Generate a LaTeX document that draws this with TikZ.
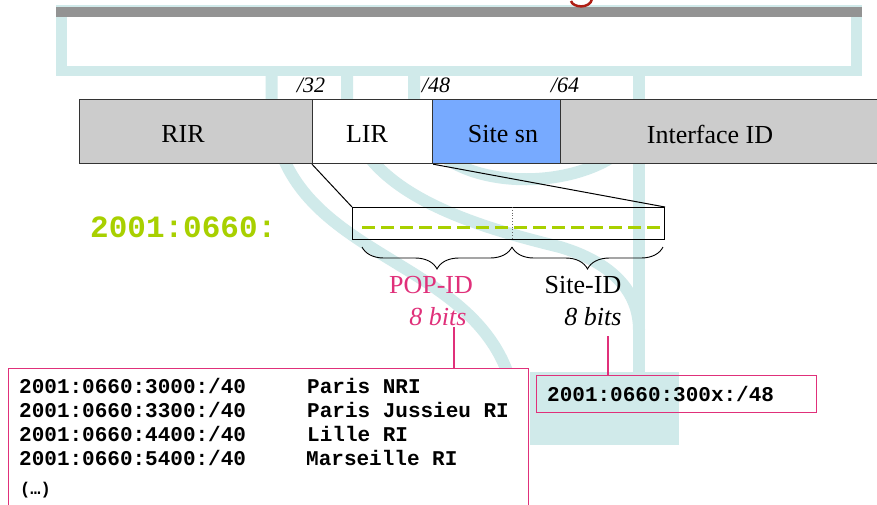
\documentclass[tikz,border=0pt]{standalone}
\usepackage{fontspec}
\setmainfont{Liberation Serif}
\setmonofont{Liberation Mono}
\usetikzlibrary{decorations.pathreplacing}
\definecolor{teal1}{RGB}{208,234,234}
\definecolor{barg}{RGB}{147,147,147}
\definecolor{boxg}{RGB}{204,204,204}
\definecolor{siteb}{RGB}{119,170,255}
\definecolor{mag}{RGB}{224,48,122}
\definecolor{lime}{RGB}{168,208,0}
\definecolor{titred}{RGB}{175,30,20}
\begin{document}
\begin{tikzpicture}[x=1pt,y=-1pt,
  seg/.style={draw=black!80,line width=1.2pt,inner sep=0pt,minimum height=64pt,anchor=north west},
  strand/.style={draw=teal1,line width=12pt},
  magline/.style={draw=mag,line width=1.2pt},
  lbl/.style={font=\fontsize{26}{30}\selectfont,inner sep=0pt,anchor=base},
  bitlbl/.style={font=\itshape\fontsize{26}{30}\selectfont,inner sep=0pt,anchor=base},
  cutlbl/.style={font=\itshape\fontsize{22}{24}\selectfont,inner sep=0pt,anchor=base},
  mono/.style={font=\ttfamily\bfseries\fontsize{21}{24}\selectfont,inner sep=0pt,anchor=base west},
  brc/.style={decorate,decoration={brace,amplitude=22pt,mirror},line width=0.9pt}]
\clip (0,0) rectangle (877,504);
\fill[white] (0,0) rectangle (877,504);
% background decoration
\fill[teal1] (56,5) rectangle (862,76);
\fill[white] (67,17) rectangle (851,66);
\fill[barg] (56,7) rectangle (862,17);
\draw[titred,line width=2.5pt] (571,1) .. controls (573,8) and (590,9) .. (592,-1);
\draw[strand] (271.5,70) -- (271.5,100) .. controls (275,260) and (470,250) .. (510,380);
\draw[strand] (347,70) -- (347,100) .. controls (352,190) and (470,225) .. (560,247) .. controls (610,262) and (639,290) .. (639,330);
\draw[strand] (414,70) -- (414,100) .. controls (414,200) and (600,200) .. (639,130);
\draw[strand] (639,70) -- (639,380);
\fill[teal1] (530,372) rectangle (679,445);
% address structure
\node[seg,minimum width=233pt,fill=boxg] (rir) at (79,99) {};
\node[seg,minimum width=120pt,fill=white] (lir) at (312,99) {};
\node[seg,minimum width=128pt,fill=siteb] (site) at (432,99) {};
\node[seg,minimum width=330pt,fill=boxg] (iface) at (560,99) {};
\node[lbl] (trir) at (183,142) {RIR};
\node[lbl] (tlir) at (367,142) {LIR};
\node[lbl] (tsite) at (503,142) {Site sn};
\node[lbl] (tiface) at (710,143) {Interface ID};
\node[cutlbl] (c32) at (311,92) {/32};
\node[cutlbl] (c48) at (436,92) {/48};
\node[cutlbl] (c64) at (565,92) {/64};
% zoomed part
\node[font=\ttfamily\bfseries\fontsize{31}{34}\selectfont,text=lime,inner sep=0pt,anchor=base west] (pre) at (90,237) {2001:0660:};
\node[draw=black,line width=1pt,inner sep=0pt,minimum width=312pt,minimum height=32pt,anchor=north west] (zb) at (352,207) {};
\coordinate (dv) at (512,207);
\draw[black!60,line width=0.8pt,dotted] (dv) -- (dv |- zb.south);
\coordinate (g1) at (362,227);
\draw[lime,line width=3pt,dash pattern=on 13pt off 6pt] (g1) -- (g1 -| zb.east);
\draw[line width=1pt] (lir.south west) -- (zb.north west);
\draw[line width=1pt] (lir.south east) -- (zb.north east);
\coordinate (b1) at (362,247);
\coordinate (b2) at (512,247);
\coordinate (b3) at (663,247);
\draw[brc] (b1) -- (b2);
\draw[brc] (b2) -- (b3);
\node[lbl,text=mag] (pop) at (431,293) {POP-ID};
\node[bitlbl,text=mag] (popb) at (438,325) {8 bits};
\node[lbl] (sid) at (583,293) {Site-ID};
\node[bitlbl] (sidb) at (593,325) {8 bits};
% tables
\node[draw=mag,fill=white,line width=1.3pt,inner sep=0pt,minimum width=520pt,minimum height=160pt,anchor=north west] (tbl) at (8,368) {};
\node[draw=mag,line width=1.3pt,inner sep=0pt,minimum width=280pt,minimum height=37pt,anchor=north west] (addr) at (536,375) {};
\node[mono] (a1) at (547,401) {2001:0660:300x:/48};
\coordinate (m1) at (454,327);
\draw[magline] (m1) -- (m1 |- tbl.north);
\coordinate (m2) at (608,336);
\draw[magline] (m2) -- (m2 |- addr.north);
\node[mono] (r1) at (19,393) {2001:0660:3000:/40};
\node[mono] (r2) at (19,417) {2001:0660:3300:/40};
\node[mono] (r3) at (19,441) {2001:0660:4400:/40};
\node[mono] (r4) at (19,465) {2001:0660:5400:/40};
\node[mono] (n1) at (307,393) {Paris NRI};
\node[mono] (n2) at (307,417) {Paris Jussieu RI};
\node[mono] (n3) at (307,441) {Lille RI};
\node[mono] (n4) at (306,465) {Marseille RI};
\node[mono,font=\ttfamily\bfseries\fontsize{17}{20}\selectfont] (r5) at (20,494) {(…)};
\end{tikzpicture}
\end{document}
